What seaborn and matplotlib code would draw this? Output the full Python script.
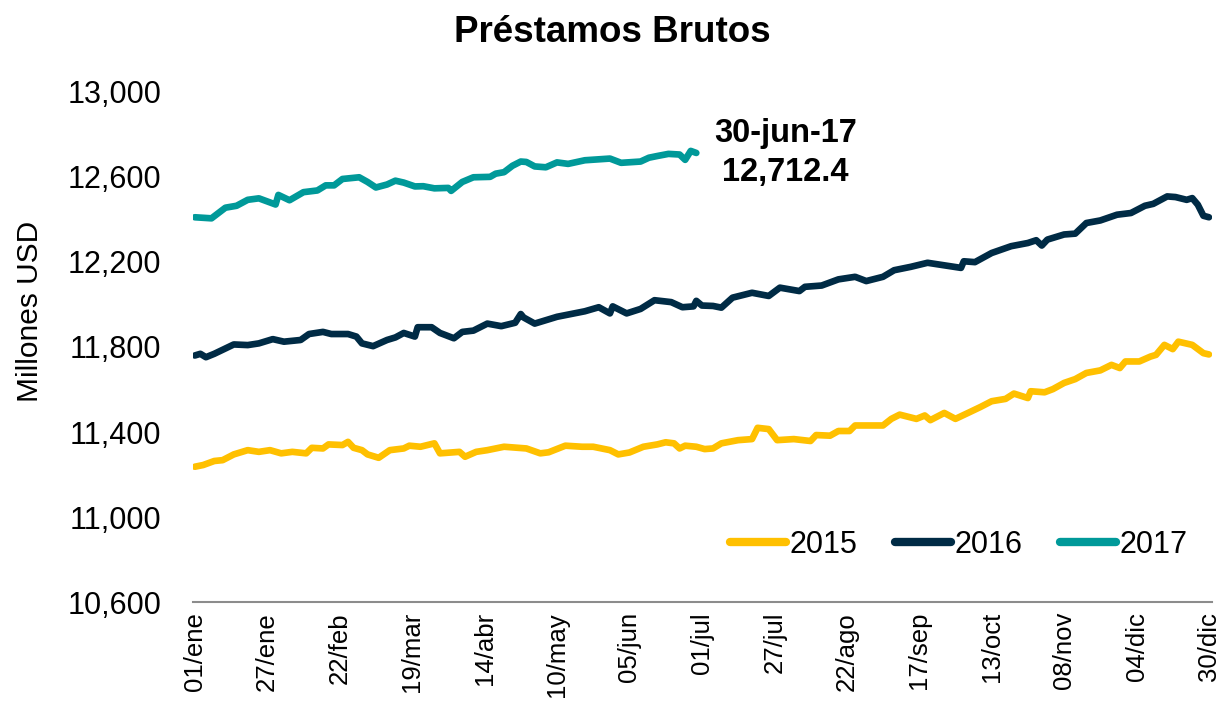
import pandas as pd
import seaborn as sns
import matplotlib.pyplot as plt
from matplotlib.lines import Line2D

# dias del año (calendario 2016) y saldos en millones USD
dias_2015 = [1, 4, 8, 11, 15, 20, 24, 28, 32, 36, 41, 43, 47, 49, 54, 56, 58, 61, 63, 67,
             71, 76, 78, 82, 87, 89, 96, 98, 102, 106, 112, 120, 125, 128, 134, 140, 144, 147, 150, 153,
             157, 162, 167, 170, 173, 175, 177, 181, 184, 187, 190, 196, 201, 203, 207, 210, 216, 222, 224, 229,
             232, 236, 238, 248, 251, 254, 260, 263, 265, 270, 274, 279, 283, 287, 292, 295, 300, 301, 306, 309,
             313, 317, 321, 326, 330, 333, 335, 340, 344, 346, 349, 352, 354, 359, 363, 365]
valores_2015 = [11237, 11245, 11264, 11268, 11295, 11315, 11307, 11315, 11300, 11307, 11300, 11326, 11323, 11342, 11339, 11354, 11326, 11315, 11295, 11279,
                11315, 11323, 11336, 11331, 11347, 11300, 11307, 11284, 11307, 11315, 11331, 11323, 11300, 11305, 11336, 11331, 11331, 11323, 11315, 11295,
                11304, 11331, 11342, 11352, 11347, 11323, 11336, 11331, 11320, 11323, 11347, 11362, 11367, 11420, 11414, 11362, 11367, 11358, 11386, 11383,
                11405, 11405, 11431, 11431, 11462, 11482, 11462, 11478, 11456, 11490, 11462, 11493, 11518, 11545, 11556, 11581, 11560, 11592, 11587, 11602,
                11631, 11649, 11678, 11690, 11716, 11701, 11732, 11732, 11755, 11763, 11810, 11790, 11825, 11810, 11771, 11765]

dias_2016 = [1, 3, 5, 8, 15, 20, 24, 29, 33, 39, 42, 47, 50, 56, 59, 61, 65, 70, 73, 76,
             80, 81, 86, 89, 94, 97, 101, 106, 111, 116, 118, 119, 123, 131, 141, 146, 150, 151, 156, 161,
             166, 172, 176, 180, 181, 183, 187, 190, 194, 201, 207, 211, 218, 220, 226, 232, 238, 242, 248, 252,
             258, 264, 268, 276, 277, 281, 287, 294, 300, 303, 305, 307, 313, 317, 321, 326, 332, 337, 342, 345,
             350, 353, 357, 359, 361, 363, 365]
valores_2016 = [11760, 11768, 11752, 11768, 11812, 11809, 11817, 11837, 11825, 11833, 11861, 11871, 11861, 11861, 11849, 11817, 11804, 11833, 11845, 11866,
                11849, 11893, 11893, 11866, 11841, 11871, 11877, 11910, 11898, 11914, 11955, 11939, 11910, 11942, 11968, 11987, 11958, 11991, 11958, 11979,
                12020, 12011, 11987, 11991, 12017, 11995, 11993, 11985, 12032, 12055, 12040, 12079, 12063, 12083, 12089, 12118, 12130, 12110, 12130, 12161,
                12177, 12196, 12188, 12172, 12203, 12199, 12242, 12274, 12289, 12302, 12277, 12305, 12329, 12333, 12383, 12395, 12422, 12430, 12464, 12473,
                12508, 12505, 12492, 12500, 12469, 12417, 12410]

dias_2017 = [1, 7, 12, 16, 20, 24, 30, 31, 35, 40, 45, 48, 51, 54, 60, 63, 66, 70, 73, 76,
             80, 83, 87, 92, 93, 97, 101, 107, 109, 112, 115, 118, 120, 123, 127, 131, 135, 141, 150, 154,
             161, 164, 167, 171, 175, 177, 179, 181]
valores_2017 = [12410, 12405, 12455, 12464, 12492, 12499, 12470, 12515, 12490, 12528, 12536, 12560, 12560, 12590, 12598, 12576, 12550, 12564, 12582, 12573,
                12555, 12556, 12546, 12548, 12534, 12576, 12598, 12600, 12615, 12622, 12652, 12672, 12670, 12649, 12645, 12668, 12661, 12678, 12686, 12666,
                12672, 12690, 12698, 12708, 12705, 12680, 12722, 12712.4]

tick_dias = [1, 27, 53, 79, 105, 131, 157, 183, 209, 235, 261, 287, 313, 339, 365]
tick_labels = ['01/ene', '27/ene', '22/feb', '19/mar', '14/abr', '10/may', '05/jun', '01/jul',
               '27/jul', '22/ago', '17/sep', '13/oct', '08/nov', '04/dic', '30/dic']

colores = {'2015': '#FFC000', '2016': '#002B45', '2017': '#009999'}

df = pd.concat([
    pd.DataFrame({'dia': dias_2015, 'valor': valores_2015, 'anio': '2015'}),
    pd.DataFrame({'dia': dias_2016, 'valor': valores_2016, 'anio': '2016'}),
    pd.DataFrame({'dia': dias_2017, 'valor': valores_2017, 'anio': '2017'}),
])

sns.set_style('white')
plt.rcParams['font.family'] = ['Liberation Sans', 'DejaVu Sans']
plt.rcParams['text.color'] = 'black'
plt.rcParams['xtick.color'] = 'black'
plt.rcParams['ytick.color'] = 'black'
plt.rcParams['axes.labelcolor'] = 'black'

fig = plt.figure(figsize=(12.24, 7.06), dpi=100)
ax = fig.add_axes([0.158, 0.147, 0.832, 0.723])

sns.lineplot(data=df, x='dia', y='valor', hue='anio', palette=colores, linewidth=4.8,
             legend=False, ax=ax, solid_capstyle='round')

ax.set_xlim(0.5, 366)
ax.set_ylim(10600, 13000)
ax.set_yticks(range(10600, 13001, 400))
ax.set_yticklabels(['{:,}'.format(v) for v in range(10600, 13001, 400)], fontsize=22)
ax.set_xticks(tick_dias)
ax.set_xticklabels(tick_labels, rotation=90, fontsize=18.5)
ax.tick_params(axis='both', length=0)
ax.tick_params(axis='x', pad=7)
ax.tick_params(axis='y', pad=23)

for s in ['top', 'right', 'left']:
    ax.spines[s].set_visible(False)
ax.spines['bottom'].set_color('#8c8c8c')
ax.spines['bottom'].set_linewidth(1.5)

ax.set_xlabel('')
ax.set_ylabel('')
fig.text(30 / 1224, 1 - 311 / 706, 'Millones USD', fontsize=21.5, rotation=90,
         ha='center', va='center')
fig.text(0.5, 1 - 33 / 706, 'Préstamos Brutos', fontsize=26.5, fontweight='bold',
         ha='center', va='center')

ax.text(213, 12712.4, '30-jun-17\n12,712.4', fontsize=23.5, fontweight='bold',
        ha='center', va='center', linespacing=1.3)

handles = [Line2D([], [], color=colores[k], linewidth=6, solid_capstyle='round') for k in colores]
ax.legend(handles, list(colores), ncol=3, frameon=False, fontsize=22,
          loc='center right', bbox_to_anchor=(0.976, 0.112), borderpad=0, borderaxespad=0,
          handlelength=1.83, handletextpad=0.1, columnspacing=1.25)

fig.savefig('out.png', dpi=100)
